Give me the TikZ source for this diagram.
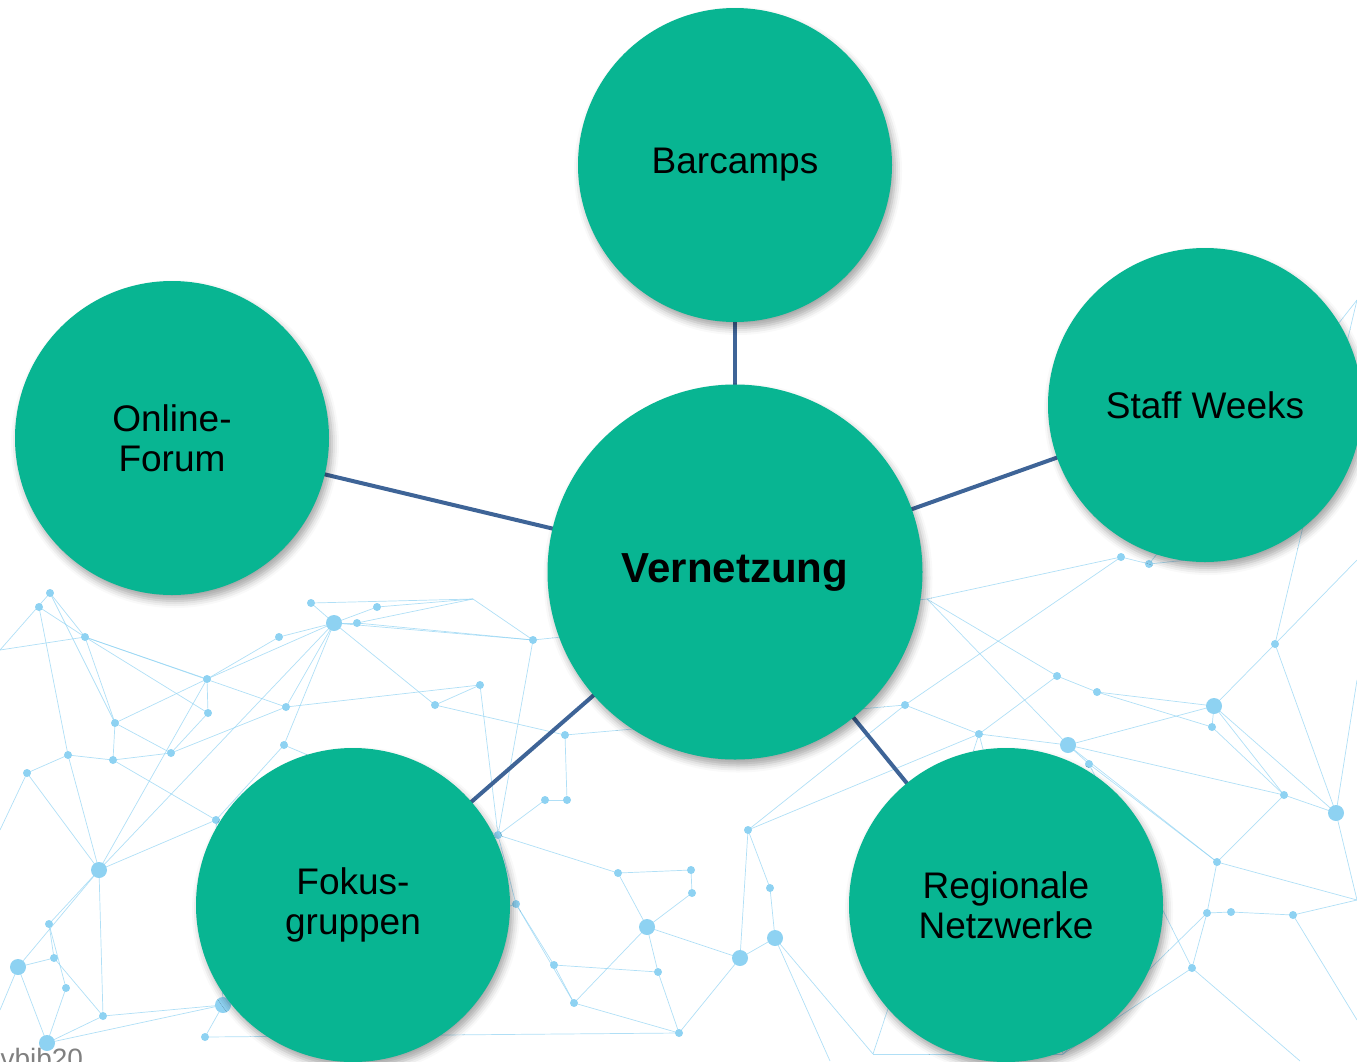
\documentclass[tikz,border=0pt]{standalone}
\usepackage{fontspec}
\setmainfont{Liberation Sans}
\usetikzlibrary{shadows.blur}
\definecolor{topicgreen}{HTML}{08B592}
\definecolor{linkblue}{HTML}{3E6497}
\definecolor{netblue}{HTML}{8ED2F2}
\begin{document}
\begin{tikzpicture}
  [x=1pt,y=-1pt,
   topic/.style={circle,fill=topicgreen,align=center,inner sep=0pt,minimum size=314pt,
     font=\fontsize{37}{40}\selectfont,
     blur shadow={shadow xshift=3pt,shadow yshift=-6pt,shadow blur radius=7pt,shadow opacity=35}},
   link/.style={linkblue,line width=4pt},
   netline/.style={netblue,line width=.7pt,opacity=.7}]
 \useasboundingbox (0,0) rectangle (1357,1061);
 \clip (0,0) rectangle (1357,1061);

 % network in the background
 \foreach \i/\x/\y in {1/50/593,2/39/607,3/85/637,4/334/623,5/357/623,6/377/607,7/311/603,
    8/279/637,9/207/679,10/208/713,11/115/723,12/113/760,13/68/755,14/171/753,15/27/773,
    16/286/707,17/284/745,18/480/685,19/435/705,20/533/640,21/473/599,22/565/735,23/545/800,
    24/567/800,25/216/820,26/99/870,27/49/924,28/54/958,29/18/967,30/66/988,31/103/1016,
    32/47/1043,33/223/1005,34/205/1037,35/516/904,36/498/835,37/618/873,38/691/870,39/692/893,
    40/647/927,41/554/965,42/658/972,43/574/1003,44/679/1033,45/740/958,46/775/938,47/770/888,
    48/748/830,49/1121/557,50/1149/564,51/927/599,52/1275/644,53/1057/676,54/1097/692,
    55/905/705,56/1214/706,57/1212/727,58/979/734,59/1068/745,60/1089/764,61/1284/795,
    62/1336/813,63/1217/862,64/1207/913,65/1231/912,66/1293/915,67/1192/968,68/873/1054,
    69/1063/1054,70/0/650,71/0/1010,72/1357/560,73/1357/680,74/1357/900,75/1357/1020,
    76/1187/560,77/830/1061,78/0/830,79/1357/300,80/1300/1061}
   \coordinate (n\i) at (\x,\y);
 \foreach \from/\to in {1/3,2/3,1/11,3/9,3/11,3/10,3/16,11/12,11/9,11/14,13/15,13/12,9/10,
    9/4,10/14,12/14,14/16,4/5,4/6,4/7,4/8,4/16,4/17,4/19,4/20,8/9,7/21,5/21,21/20,20/51,
    16/18,18/19,19/22,17/25,25/26,26/27,26/13,26/15,27/28,28/29,29/32,30/32,31/32,32/33,
    29/26,28/31,33/34,33/35,35/36,36/23,23/24,24/22,35/41,41/43,43/44,40/42,40/39,39/38,
    38/37,37/36,40/45,45/46,46/47,47/48,48/55,40/43,45/44,42/44,22/55,55/58,58/59,59/56,
    56/57,57/54,54/53,53/51,51/49,49/50,50/76,56/52,52/72,56/61,61/62,62/74,61/63,63/64,
    64/65,65/66,66/74,64/67,67/69,69/68,59/60,60/63,58/68,59/61,54/56,1/70,15/78,29/71,
    62/73,66/75,67/80,46/77,53/58,49/55,5/20,52/79,50/79,34/44,
    4/26,9/26,3/70,20/36,18/36,48/58,51/59,59/63,56/62,57/61,52/62,64/69,63/74,58/69,
    60/67,46/68,45/48,37/40,35/43,41/42,25/33,33/31,17/36,26/31,27/30,2/13,12/25,6/21}
    \draw[netline] (n\from) -- (n\to);
 \foreach \i in {1,2,3,5,6,7,8,9,10,11,12,13,14,15,16,17,18,19,20,22,23,24,25,27,28,30,31,
    34,35,36,37,38,39,41,42,43,44,47,48,49,50,52,53,54,55,57,58,60,61,63,64,65,66,67}
   \fill[netblue] (n\i) circle (4pt);
 \foreach \i in {4,26,29,32,33,40,45,46,56,59,62}
   \fill[netblue] (n\i) circle (8pt);
 \node (src)[gray,font=\fontsize{28}{30}\selectfont,anchor=base west] at (-3,1068) {vbib20};

 % the topics
 \coordinate (c1) at (735,165);
 \coordinate (c0) at (735,572);
 \coordinate (c2) at (172,438);
 \coordinate (c3) at (1205,405);
 \coordinate (c4) at (353,905);
 \coordinate (c5) at (1006,905);
 \foreach \to in {c1,c2,c3,c4,c5}
    \draw[link] (c0) -- (\to);

 \node (barcamps)[topic] at (c1) {Barcamps};
 \node (forum)[topic] at (c2) {Online-\\Forum};
 \node (staff)[topic] at (c3) {Staff Weeks};
 \node (fokus)[topic] at (c4) {Fokus-\\gruppen};
 \node (regio)[topic] at (c5) {Regionale\\Netzwerke};
 \node (vernetzung)[topic,minimum size=375pt,font=\fontsize{42}{46}\selectfont\bfseries] at (c0) {Vernetzung};
\end{tikzpicture}
\end{document}
